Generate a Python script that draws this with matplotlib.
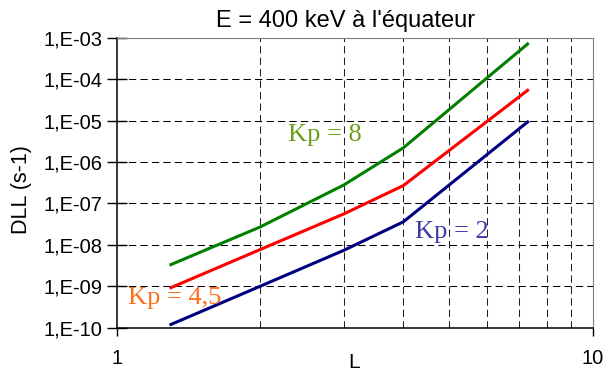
import math
import matplotlib
matplotlib.use("Agg")
import matplotlib.pyplot as plt
from matplotlib.ticker import FixedLocator, FuncFormatter, NullFormatter, NullLocator

# donnees
L = [1.3, 2, 3, 4, 7.3]
dll_kp8 = [3.35e-9, 2.7e-8, 2.8e-7, 2.2e-6, 7.1e-4]
dll_kp45 = [9.3e-10, 7.7e-9, 5.6e-8, 2.7e-7, 5.4e-5]
dll_kp2 = [1.2e-10, 1.0e-9, 7.4e-9, 3.6e-8, 9.3e-6]

y_ticks = [1e-10, 1e-9, 1e-8, 1e-7, 1e-6, 1e-5, 1e-4, 1e-3]
x_grid = [2, 3, 4, 5, 6, 7, 8, 9]

plt.rcParams["font.family"] = ["Liberation Sans", "DejaVu Sans"]

fig = plt.figure(figsize=(6.11, 3.82), dpi=100)
ax = fig.add_axes([0.191, 0.142, 0.779, 0.759])

ax.plot(L, dll_kp8, color="#008000", lw=2.2, zorder=3)
ax.plot(L, dll_kp45, color="#ff0000", lw=2.2, zorder=3)
ax.plot(L, dll_kp2, color="#000080", lw=2.2, zorder=3)

ax.set_xscale("log")
ax.set_yscale("log")
ax.set_xlim(1, 10)
ax.set_ylim(1e-10, 1e-3)

# axes et graduations
ax.xaxis.set_major_locator(FixedLocator([1, 10]))
ax.xaxis.set_major_formatter(FuncFormatter(lambda v, p: f"{v:g}"))
ax.xaxis.set_minor_locator(FixedLocator(x_grid))
ax.xaxis.set_minor_formatter(NullFormatter())
ax.yaxis.set_major_locator(FixedLocator(y_ticks))
ax.yaxis.set_minor_locator(NullLocator())
ax.yaxis.set_major_formatter(FuncFormatter(lambda v, p: "1,E-%02d" % round(-math.log10(v))))

ax.tick_params(axis="x", which="major", direction="out", length=6, width=1, pad=9, labelsize=14.5)
ax.tick_params(axis="x", which="minor", length=0)
ax.tick_params(axis="y", which="major", direction="inout", length=14, width=1, pad=3, labelsize=14.5)

# grille en pointilles
for y in y_ticks[1:]:
    ax.axhline(y, color="black", lw=0.75, dashes=(7, 4), zorder=1)
for x in x_grid:
    ax.axvline(x, color="#222222", lw=0.75, dashes=(7, 4), zorder=1)

ax.spines["top"].set_color("#808080")
ax.spines["right"].set_color("#808080")
ax.spines["left"].set_linewidth(1.1)
ax.spines["bottom"].set_linewidth(1.1)

fig.text(354 / 611, 1 - 362 / 382, "L", fontsize=15, ha="center", va="center")
fig.text(22 / 611, 1 - 190 / 382, "DLL (s-1)", fontsize=15.5, rotation=90, ha="center", va="center")
fig.text(0.566, 0.929, "E = 400 keV à l'équateur", fontsize=17, ha="center", va="baseline")

serif = ["Liberation Serif", "DejaVu Serif"]
ax.text(2.29, 10**-5.35, "Kp = 8", color="#6a9e1a", fontsize=19, family=serif, ha="left", va="center")
ax.text(1.057, 10**-9.28, "Kp = 4,5", color="#ff6e1a", fontsize=19, family=serif, ha="left", va="center")
ax.text(4.24, 10**-7.69, "Kp = 2", color="#3c3ca8", fontsize=19, family=serif, ha="left", va="center")

fig.savefig("out.png", dpi=100)
